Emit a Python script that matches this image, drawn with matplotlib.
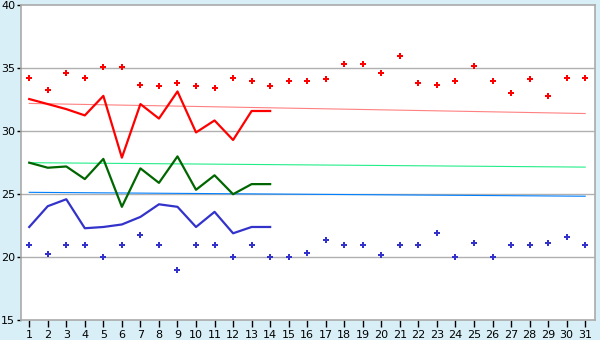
import matplotlib
matplotlib.use("Agg")
import matplotlib.pyplot as plt
import numpy as np

days = np.arange(1, 32)

record_max = [34.2, 33.3, 34.6, 34.2, 35.1, 35.1, 33.7, 33.6, 33.8, 33.6,
              33.4, 34.2, 34.0, 33.6, 34.0, 34.0, 34.1, 35.3, 35.3, 34.6,
              36.0, 33.8, 33.7, 34.0, 35.2, 34.0, 33.0, 34.1, 32.8, 34.2, 34.2]
record_min = [21.0, 20.25, 21.0, 21.0, 20.0, 21.0, 21.8, 21.0, 19.0, 21.0,
              21.0, 20.0, 20.95, 20.0, 20.0, 20.3, 21.4, 21.0, 21.0, 20.2,
              21.0, 21.0, 21.9, 20.0, 21.1, 20.0, 21.0, 21.0, 21.1, 21.6, 21.0]

obs_days = np.arange(1, 15)
obs_max = [32.55, 32.15, 31.75, 31.25, 32.8, 27.9, 32.15, 31.0, 33.15, 29.9,
           30.85, 29.3, 31.6, 31.6]
obs_mean = [27.5, 27.1, 27.2, 26.2, 27.8, 24.0, 27.05, 25.9, 28.0, 25.35,
            26.5, 25.0, 25.8, 25.8]
obs_min = [22.4, 24.05, 24.6, 22.3, 22.4, 22.6, 23.2, 24.2, 24.0, 22.4,
           23.6, 21.9, 22.4, 22.4]

# normal values, first and last day of the month
trend_days = [1, 31]
normal_max = [32.2, 31.4]
normal_mean = [27.5, 27.15]
normal_min = [25.15, 24.84]

fig = plt.figure(figsize=(6, 3.4), dpi=100, facecolor="#d9eff7")
ax = fig.add_axes([0.0345, 0.058, 0.9575, 0.927])
ax.set_facecolor("white")

for v in (20, 25, 30, 35):
    ax.axhline(v, color="#b0b0b0", lw=1, zorder=1)

ax.plot(trend_days, normal_max, color="#ff8080", lw=0.8, zorder=2)
ax.plot(trend_days, normal_mean, color="#22ee88", lw=0.8, zorder=2)
ax.plot(trend_days, normal_min, color="#0080ff", lw=0.8, zorder=2)

ax.plot(obs_days, obs_max, color="#ff0000", lw=1.6, zorder=3)
ax.plot(obs_days, obs_mean, color="#006600", lw=1.6, zorder=3)
ax.plot(obs_days, obs_min, color="#3333cc", lw=1.6, zorder=3)

ax.plot(days, record_max, ls="none", marker="P", ms=5, color="#ff0000",
        mew=0, zorder=4)
ax.plot(days, record_min, ls="none", marker="P", ms=5, color="#3333cc",
        mew=0, zorder=4)

ax.set_xlim(0.54, 31.54)
ax.set_ylim(15, 40)
ax.set_xticks(days)
ax.set_yticks([15, 20, 25, 30, 35, 40])
ax.tick_params(axis="x", direction="out", length=5, width=1, labelsize=8,
               pad=2, colors="black")
ax.tick_params(axis="y", direction="out", length=3, width=1, labelsize=8,
               pad=1, colors="black")
for s in ax.spines.values():
    s.set_color("#aaaaaa")
    s.set_linewidth(1.2)

fig.savefig("out.png", dpi=100, facecolor=fig.get_facecolor())
